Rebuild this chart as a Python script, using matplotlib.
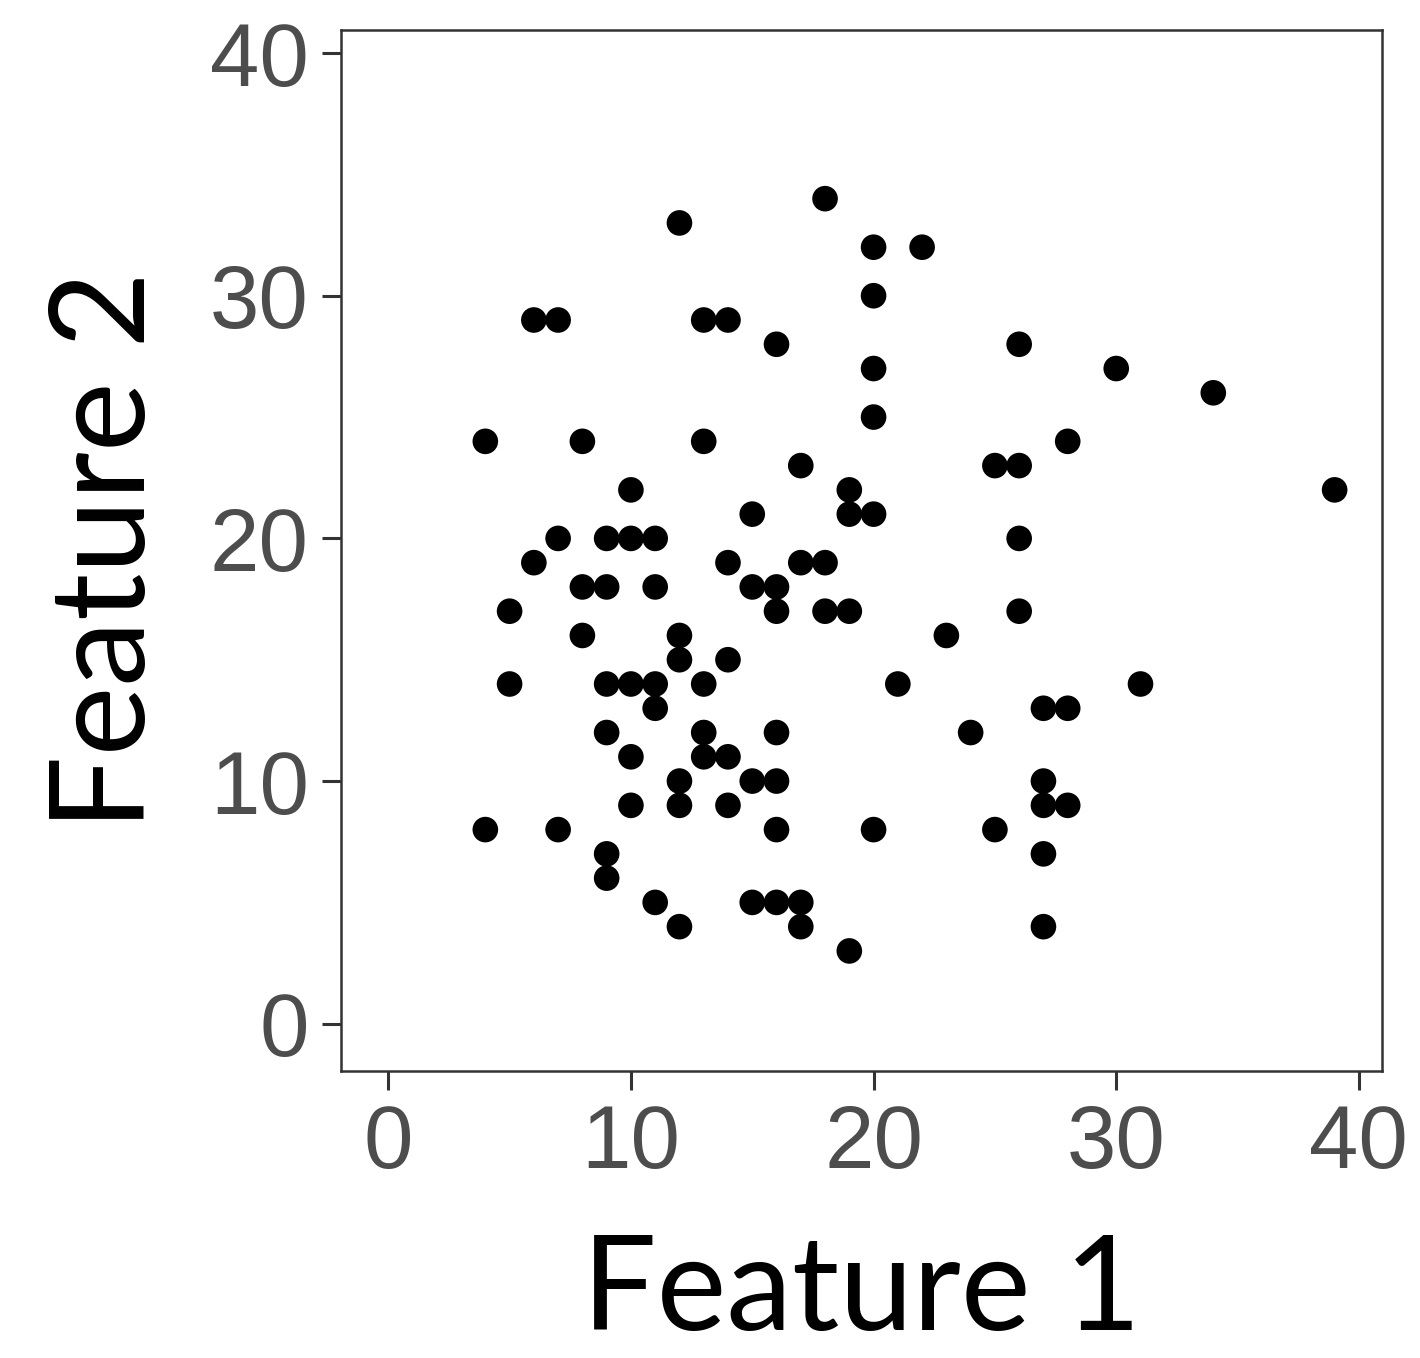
import matplotlib.pyplot as plt
from matplotlib import font_manager

# 数据 (整数坐标)
feature1 = [18, 12, 20, 22, 20, 6, 7, 13, 14, 16, 26, 20, 30, 34, 20,
            4, 8, 13, 28, 17, 25, 26, 10, 19, 39, 15, 19, 20,
            7, 9, 10, 11, 26, 6, 14, 17, 18, 8, 9, 11, 15, 16,
            5, 16, 18, 19, 26, 8, 12, 23, 12, 14,
            5, 9, 10, 11, 13, 21, 31, 11, 27, 28, 9, 13, 16, 24,
            10, 13, 14, 12, 15, 16, 27, 10, 12, 14, 27, 28,
            4, 7, 16, 20, 25, 9, 27, 9, 11, 15, 16, 17, 12, 17, 27, 19]
feature2 = [34, 33, 32, 32, 30, 29, 29, 29, 29, 28, 28, 27, 27, 26, 25,
            24, 24, 24, 24, 23, 23, 23, 22, 22, 22, 21, 21, 21,
            20, 20, 20, 20, 20, 19, 19, 19, 19, 18, 18, 18, 18, 18,
            17, 17, 17, 17, 17, 16, 16, 16, 15, 15,
            14, 14, 14, 14, 14, 14, 14, 13, 13, 13, 12, 12, 12, 12,
            11, 11, 11, 10, 10, 10, 10, 9, 9, 9, 9, 9,
            8, 8, 8, 8, 8, 7, 7, 6, 5, 5, 5, 5, 4, 4, 4, 3]
ticks = [0, 10, 20, 30, 40]

names = {f.name for f in font_manager.fontManager.ttflist}
tick_font = 'Liberation Sans Narrow' if 'Liberation Sans Narrow' in names else 'Liberation Sans'

fig = plt.figure(figsize=(14.2, 13.58), dpi=100)
ax = fig.add_axes([0.2401, 0.2113, 0.7331, 0.7666])
ax.scatter(feature1, feature2, s=340, color='black', edgecolors='none', zorder=3)

ax.set_xlim(-1.95, 40.95)
ax.set_ylim(-1.95, 40.95)
ax.set_xticks(ticks)
ax.set_yticks(ticks)
ax.set_xticklabels([str(t) for t in ticks], fontsize=64, color='#4d4d4d', family=tick_font)
ax.set_yticklabels([str(t) for t in ticks], fontsize=64, color='#4d4d4d', family=tick_font)
ax.tick_params(length=14, width=2.2, color='#333333', pad=9)
for s in ax.spines.values():
    s.set_color('#333333')
    s.set_linewidth(1.8)

ax.set_xlabel('Feature 1', fontsize=95, family='Lato', labelpad=33)
ax.set_ylabel('Feature 2', fontsize=95, family='Lato', labelpad=30)

plt.savefig('out.png', dpi=100)
